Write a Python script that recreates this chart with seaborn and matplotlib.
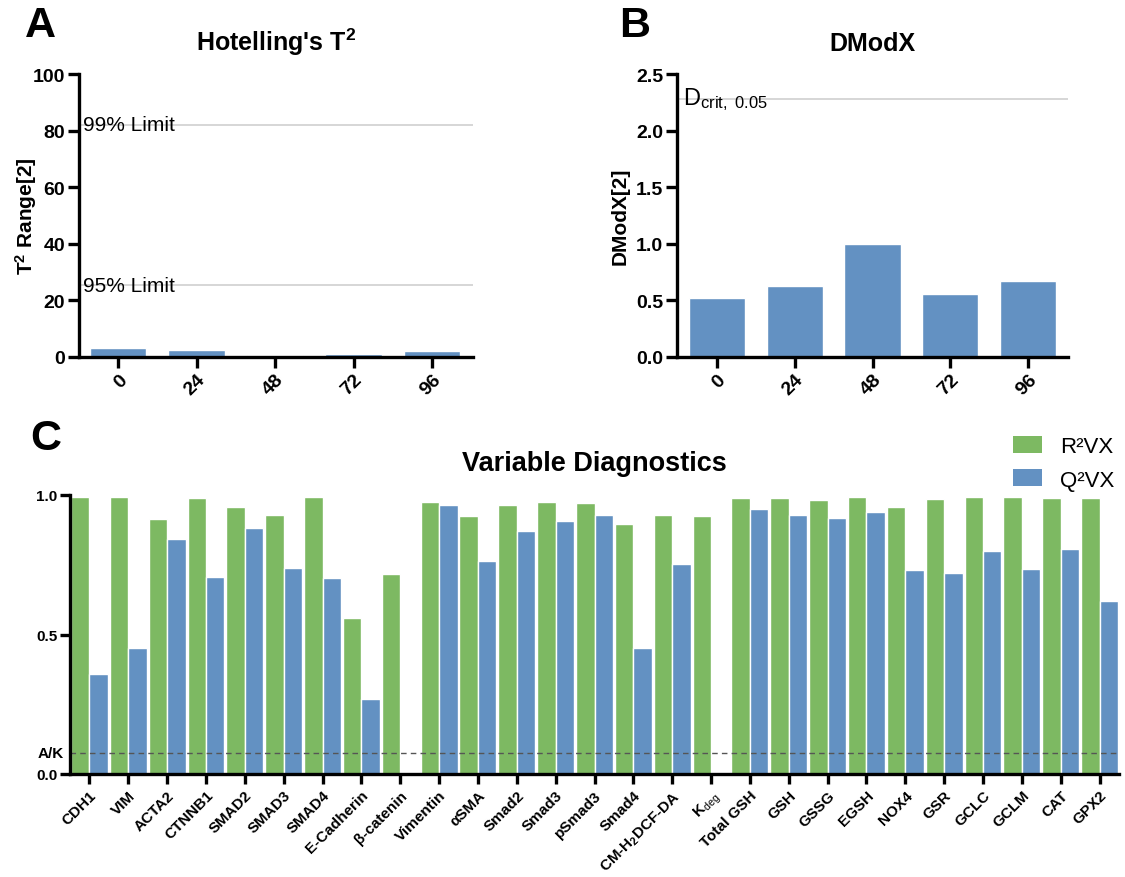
import numpy as np
import pandas as pd
import matplotlib
matplotlib.use("Agg")
import matplotlib.pyplot as plt
import matplotlib.transforms as mtransforms
from matplotlib.patches import Patch
import seaborn as sns

# ---- data ----
hours = ["0", "24", "48", "72", "96"]
t2_range = [3.1, 2.5, 0.7, 1.2, 2.1]
t2_limit_95 = 25.4
t2_limit_99 = 82.0

dmodx = [0.52, 0.63, 1.00, 0.56, 0.67]
dcrit_005 = 2.28

variables = ["CDH1", "VIM", "ACTA2", "CTNNB1", "SMAD2", "SMAD3", "SMAD4",
             "E-Cadherin", "β-catenin", "Vimentin", "αSMA", "Smad2", "Smad3",
             "pSmad3", "Smad4", r"CM-H$_{\mathbf{2}}$DCF-DA", r"K$_{\rm deg}$",
             "Total GSH", "GSH", "GSSG", "EGSH", "NOX4", "GSR", "GCLC",
             "GCLM", "CAT", "GPX2"]
r2vx = [0.994, 0.994, 0.914, 0.988, 0.958, 0.928, 0.994, 0.559, 0.716,
        0.976, 0.924, 0.964, 0.974, 0.970, 0.896, 0.927, 0.925,
        0.988, 0.988, 0.982, 0.993, 0.956, 0.986, 0.992, 0.992, 0.990, 0.990]
q2vx = [0.357, 0.453, 0.842, 0.707, 0.883, 0.738, 0.704, 0.268, np.nan,
        0.964, 0.762, 0.871, 0.906, 0.927, 0.450, 0.753, np.nan,
        0.949, 0.927, 0.918, 0.938, 0.731, 0.720, 0.798, 0.736, 0.808, 0.620]
ak_threshold = 0.074
metrics = ["R²VX", "Q²VX"]

GREEN = "#7db962"
BLUE = "#6391c2"

# ---- style ----
sns.set_style("ticks")
plt.rcParams["font.family"] = ["Liberation Sans", "DejaVu Sans"]
plt.rcParams["mathtext.fontset"] = "custom"
plt.rcParams["mathtext.rm"] = "Liberation Sans"
plt.rcParams["mathtext.bf"] = "Liberation Sans:bold"
plt.rcParams["mathtext.it"] = "Liberation Sans:italic"
for key in ("text.color", "axes.labelcolor", "xtick.color", "ytick.color",
            "axes.edgecolor"):
    plt.rcParams[key] = "black"

fig = plt.figure(figsize=(11.25, 8.78), dpi=100)

def style_axis(ax, tick_size, lw=2.4, tlen=8, xpad=2):
    sns.despine(ax=ax)
    for s in ("left", "bottom"):
        ax.spines[s].set_linewidth(lw)
        ax.spines[s].set_color("black")
        ax.spines[s].set_zorder(5)
    ax.tick_params(axis="both", width=lw, length=tlen, labelsize=tick_size,
                   pad=2, colors="black")
    ax.tick_params(axis="x", pad=xpad)
    for lab in ax.get_xticklabels() + ax.get_yticklabels():
        lab.set_fontweight("bold")

# ---- Panel A: Hotelling's T2 ----
axA = fig.add_axes([79 / 1125, 1 - 358 / 878, 394 / 1125, 283 / 878])
sns.barplot(x=hours, y=t2_range, color=BLUE, saturation=1, width=0.72,
            ax=axA, zorder=2)
for lim, lab in [(t2_limit_99, "99% Limit"), (t2_limit_95, "95% Limit")]:
    axA.axhline(lim, color="#cfcfcf", lw=1.2, zorder=1)
    axA.text(-0.45, lim, lab, fontsize=15, va="center", ha="left", zorder=4)
axA.set_ylim(0, 100)
axA.set_xlim(-0.5, 4.52)
axA.set_yticks([0, 20, 40, 60, 80, 100])
axA.set_title(r"Hotelling's T$^{\mathbf{2}}$", fontsize=18, fontweight="bold",
              pad=17)
axA.set_ylabel(r"T$^{\mathbf{2}}$ Range[2]", fontsize=15, fontweight="bold")
axA.yaxis.set_label_coords(-0.102, 0.5)
style_axis(axA, 14)
plt.setp(axA.get_xticklabels(), rotation=45, ha="right", rotation_mode="anchor")

# ---- Panel B: DModX ----
axB = fig.add_axes([677 / 1125, 1 - 358 / 878, 391 / 1125, 283 / 878])
sns.barplot(x=hours, y=dmodx, color=BLUE, saturation=1, width=0.72,
            ax=axB, zorder=2)
axB.axhline(dcrit_005, color="#cfcfcf", lw=1.2, zorder=1)
axB.text(-0.43, dcrit_005, r"D$_{\rm crit,\ 0.05}$", fontsize=17, va="center",
         ha="left", zorder=4)
axB.set_ylim(0, 2.5)
axB.set_xlim(-0.51, 4.51)
axB.set_yticks([0, 0.5, 1.0, 1.5, 2.0, 2.5])
axB.set_yticklabels(["0.0", "0.5", "1.0", "1.5", "2.0", "2.5"])
axB.set_title("DModX", fontsize=18, fontweight="bold", pad=17)
axB.set_ylabel("DModX[2]", fontsize=15, fontweight="bold")
axB.yaxis.set_label_coords(-0.12, 0.5)
style_axis(axB, 14)
plt.setp(axB.get_xticklabels(), rotation=45, ha="right", rotation_mode="anchor")

# ---- Panel C: Variable diagnostics ----
df = pd.DataFrame({
    "variable": variables * 2,
    "metric": [metrics[0]] * len(variables) + [metrics[1]] * len(variables),
    "value": r2vx + q2vx,
}).dropna()
axC = fig.add_axes([70 / 1125, 1 - 775 / 878, 1049 / 1125, 279 / 878])
sns.barplot(data=df, x="variable", y="value", hue="metric", order=variables,
            hue_order=metrics, palette=[GREEN, BLUE], saturation=1, width=0.95,
            edgecolor="white", linewidth=1.0, ax=axC, legend=False, zorder=2)
axC.axhline(ak_threshold, color="#555555", lw=1.0, ls=(0, (4, 3)), zorder=4)
trans = mtransforms.blended_transform_factory(axC.transAxes, axC.transData)
axC.text(-0.006, ak_threshold, "A/K", transform=trans, ha="right", va="center",
         fontsize=11, fontweight="bold")
axC.set_ylim(0, 1.0)
axC.set_xlim(-0.5, 26.5)
axC.set_yticks([0, 0.5, 1.0])
axC.set_yticklabels(["0.0", "0.5", "1.0"])
axC.set_xlabel("")
axC.set_ylabel("")
axC.set_title("Variable Diagnostics", fontsize=19.5, fontweight="bold", pad=18)
style_axis(axC, 11, tlen=7, xpad=3)
plt.setp(axC.get_xticklabels(), rotation=45, ha="right", rotation_mode="anchor",
         fontsize=11)

handles = [Patch(facecolor=GREEN, edgecolor="none"),
           Patch(facecolor=BLUE, edgecolor="none")]
fig.legend(handles, metrics, loc="upper right",
           bbox_to_anchor=(1114 / 1125, 1 - 437 / 878), frameon=False,
           fontsize=16, handlelength=1.3, handleheight=0.8, labelspacing=0.55,
           handletextpad=0.8, borderpad=0, borderaxespad=0)

# ---- panel letters ----
for letter, x, y in [("A", 40, 26), ("B", 635, 26), ("C", 46, 439)]:
    fig.text(x / 1125, 1 - y / 878, letter, fontsize=31, fontweight="bold",
             ha="center", va="center")

fig.savefig("out.png", dpi=100)
